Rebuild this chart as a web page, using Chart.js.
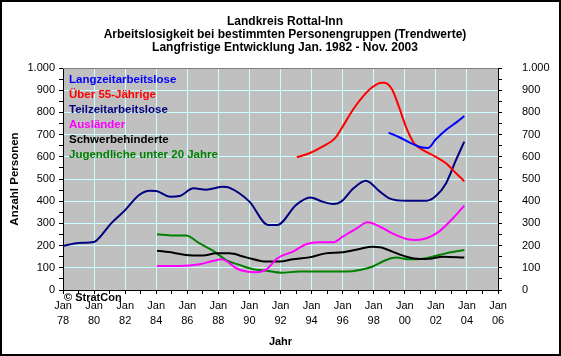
<!DOCTYPE html>
<html><head><meta charset="utf-8">
<script src="https://cdn.jsdelivr.net/npm/chart.js@4/dist/chart.umd.min.js"></script>
<style>html,body{margin:0;padding:0;background:#fff}canvas{display:block}</style>
</head><body>
<canvas id="c" width="561" height="356"></canvas>
<script>
const titleLines = ['Landkreis Rottal-Inn','Arbeitslosigkeit bei bestimmten Personengruppen (Trendwerte)','Langfristige Entwicklung Jan. 1982 - Nov. 2003'];
const seriesNames = ['Langzeitarbeitslose','Über 55-Jährige','Teilzeitarbeitslose','Ausländer','Schwerbehinderte','Jugendliche unter 20 Jahre'];
const seriesColors = ['#0000FF','#FF0000','#000080','#FF00FF','#000000','#008000'];

const langzeitX = [1998.96,1999.65,2000.5,2001.05,2001.5,2002.0,2002.65,2003.3,2003.83];
const langzeitY = [709,688,658,643,640,679,721,754,784];
const ueber55X = [1993.05,1993.86,1994.7,1995.5,1996.0,1996.65,1997.3,1997.9,1998.5,1998.7,1999.2,1999.65,2000.1,2000.6,2001.15,2002.0,2002.65,2003.3,2003.83];
const ueber55Y = [598,616,646,683,736,811,871,913,934,934,901,820,730,661,631,600,571,526,490];
const teilzeitX = [1978.0,1979.0,1980.0,1980.3,1981.1,1982.0,1982.9,1983.6,1984.0,1984.9,1985.5,1986.4,1987.2,1988.3,1988.7,1990.0,1991.2,1991.8,1993.0,1993.9,1994.7,1995.4,1995.9,1996.7,1997.5,1998.4,1999.0,2000.1,2001.4,2002.0,2002.65,2003.3,2003.83];
const teilzeitY = [198,212,216,233,300,360,428,447,446,420,423,458,452,465,461,398,293,293,383,417,398,387,398,458,492,443,413,402,402,423,480,586,668];
const auslaenderX = [1984.05,1985.5,1986.8,1987.65,1988.2,1988.5,1989.15,1989.8,1990.4,1991.1,1991.8,1992.8,1993.65,1994.5,1995.4,1996.0,1996.9,1997.6,1998.4,1999.2,2000.1,2000.7,2001.4,2002.2,2003.1,2003.83];
const auslaenderY = [108,108,116,131,138,131,98,83,80,93,143,173,206,215,215,240,278,305,285,255,230,225,233,263,323,380];
const schwerX = [1984.05,1985.1,1985.9,1987.0,1987.85,1988.7,1989.8,1991.1,1991.95,1992.8,1993.85,1994.9,1996.0,1997.1,1997.9,1998.5,1999.2,2000.1,2001.0,2001.6,2002.45,2003.83];
const schwerY = [177,168,158,155,165,165,147,128,128,138,147,165,170,185,195,191,173,150,140,141,150,146];
const jugendX = [1984.05,1985.1,1985.9,1986.8,1987.65,1988.5,1989.35,1990.2,1991.1,1992.05,1993.2,1994.9,1996.2,1997.1,1997.9,1998.8,1999.45,2000.3,2001.0,2001.6,2002.65,2003.83];
const jugendY = [251,245,245,210,177,135,113,95,87,78,83,83,83,90,105,135,146,138,140,147,165,180];

const xMin = 1978, xMax = 2006, yMin = 0, yMax = 1000;
const xTickMonth = 'Jan';
const yAxisTitle = 'Anzahl Personen';
const xAxisTitle = 'Jahr';
const copyright = '© StratCon';

const FONT = "'Liberation Sans', Arial, sans-serif";
const seriesX = [langzeitX, ueber55X, teilzeitX, auslaenderX, schwerX, jugendX];
const seriesY = [langzeitY, ueber55Y, teilzeitY, auslaenderY, schwerY, jugendY];
const datasets = seriesNames.map((n, i) => ({
  label: n,
  data: seriesX[i].map((x, j) => ({x: x, y: seriesY[i][j]})),
  borderColor: seriesColors[i],
  backgroundColor: seriesColors[i],
  borderWidth: 2,
  pointRadius: 0,
  fill: false,
  cubicInterpolationMode: 'monotone'
}));

const fmt = v => v >= 1000 ? Math.floor(v/1000) + '.' + String(v%1000).padStart(3,'0') : String(v);

const decor = {
  id: 'decor',
  beforeDraw(chart) {
    const {ctx, chartArea: a} = chart;
    ctx.save();
    ctx.fillStyle = '#FFFFFF';
    ctx.fillRect(0, 0, chart.width, chart.height);
    ctx.fillStyle = '#C0C0C0';
    ctx.fillRect(a.left, a.top, a.right - a.left, a.bottom - a.top);
    ctx.restore();
  },
  afterDraw(chart) {
    const {ctx, chartArea: a} = chart;
    ctx.save();
    ctx.strokeStyle = '#808080';
    ctx.lineWidth = 1;
    ctx.beginPath();
    ctx.moveTo(a.left, a.top + 0.5);
    ctx.lineTo(a.right, a.top + 0.5);
    ctx.stroke();
    ctx.textBaseline = 'middle';
    ctx.font = 'bold 12px ' + FONT;
    ctx.textAlign = 'center';
    ctx.fillStyle = '#000';
    const ty = [22, 35, 48];
    titleLines.forEach((t, i) => ctx.fillText(t, 285, ty[i]));
    ctx.textAlign = 'left';
    ctx.font = 'bold 11.5px ' + FONT;
    const ly = [80, 95, 110, 125, 140, 155];
    seriesNames.forEach((n, i) => { ctx.fillStyle = seriesColors[i]; ctx.fillText(n, 69, ly[i]); });
    ctx.fillStyle = '#000';
    ctx.font = 'bold 11px ' + FONT;
    ctx.fillText(copyright, 64, 298);
    ctx.strokeStyle = '#000';
    ctx.lineWidth = 2;
    ctx.strokeRect(1, 1, chart.width - 2, chart.height - 2);
    ctx.restore();
  }
};

new Chart(document.getElementById('c'), {
  type: 'line',
  data: { datasets },
  plugins: [decor],
  options: {
    responsive: false,
    animation: false,
    devicePixelRatio: 1,
    layout: { padding: { top: 68, left: 0, right: 0, bottom: 0 } },
    plugins: { legend: { display: false }, title: { display: false }, tooltip: { enabled: false } },
    scales: {
      x: {
        type: 'linear', min: xMin, max: xMax,
        afterFit(s) { s.height = 66; },
        ticks: {
          stepSize: 1, autoSkip: false, maxRotation: 0, minRotation: 0,
          color: '#000', padding: 4,
          font: { family: FONT, size: 11, lineHeight: 1.4 },
          callback: v => (v % 2 === 0) ? [xTickMonth, String(v % 100).padStart(2, '0')] : ''
        },
        grid: {
          color: c => (c.tick && c.tick.value % 2 === 0 && c.tick.value > xMin && c.tick.value < xMax) ? '#CCFFFF' : 'rgba(0,0,0,0)',
          tickColor: '#000', tickLength: 4, lineWidth: 1
        },
        border: { display: true, color: '#000', width: 1 },
        title: { display: true, text: xAxisTitle, color: '#000', font: { family: FONT, size: 11, weight: 'bold' }, padding: { top: 0, bottom: 7 } }
      },
      y: {
        type: 'linear', position: 'left', min: yMin, max: yMax,
        afterFit(s) { s.width = 63; },
        ticks: {
          stepSize: 50, autoSkip: false, color: '#000', padding: 4,
          font: { family: FONT, size: 11 },
          callback: v => (v % 100 === 0) ? fmt(v) : ''
        },
        grid: {
          color: c => (c.tick && c.tick.value % 100 === 0 && c.tick.value > yMin && c.tick.value < yMax) ? '#CCFFFF' : 'rgba(0,0,0,0)',
          tickColor: '#000', tickLength: 4, lineWidth: 1
        },
        border: { display: true, color: '#000', width: 1 },
        title: { display: true, text: yAxisTitle, color: '#000', font: { family: FONT, size: 11.5, weight: 'bold' }, padding: { top: 8, bottom: 0 } }
      },
      y2: {
        type: 'linear', position: 'right', min: yMin, max: yMax,
        afterFit(s) { s.width = 63; },
        ticks: {
          stepSize: 50, autoSkip: false, color: '#000', padding: 20,
          font: { family: FONT, size: 11 },
          callback: v => (v % 100 === 0) ? fmt(v) : ''
        },
        grid: { drawOnChartArea: false, tickColor: '#000', tickLength: 4 },
        border: { display: true, color: '#000', width: 1 }
      }
    }
  }
});
</script>
</body></html>
